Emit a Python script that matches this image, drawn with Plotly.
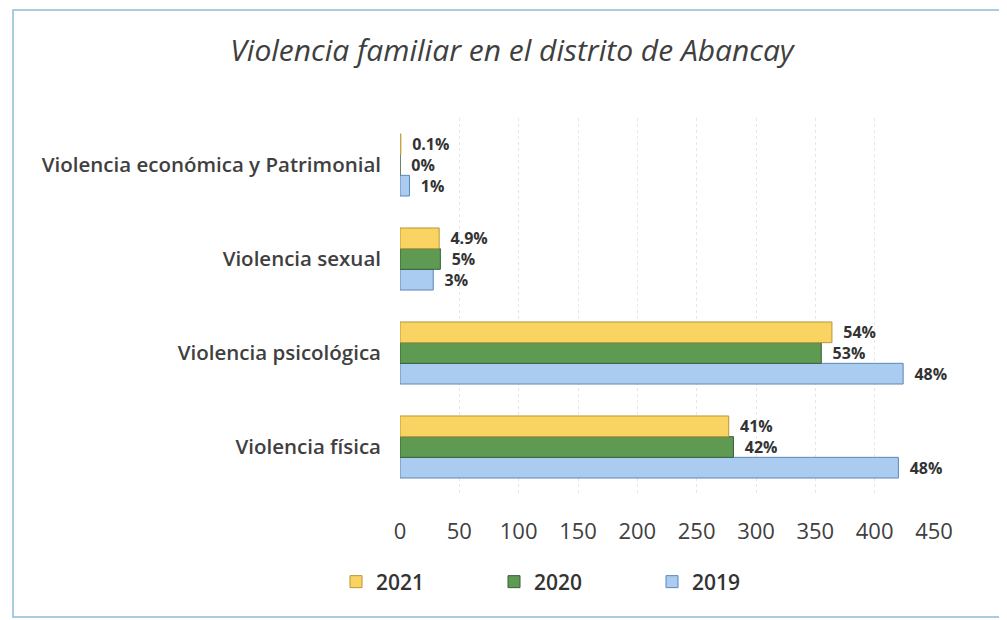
import plotly.graph_objects as go

categories = ["Violencia física", "Violencia psicológica", "Violencia sexual",
              "Violencia económica y Patrimonial"]

v2019 = [420, 424, 28, 8]
v2020 = [281, 355, 34, 0]
v2021 = [277, 364, 33, 0.7]

t2019 = ["48%", "48%", "3%", "1%"]
t2020 = ["42%", "53%", "5%", "0%"]
t2021 = ["41%", "54%", "4.9%", "0.1%"]

xticks = [0, 50, 100, 150, 200, 250, 300, 350, 400, 450]

series = [
    ("2019", v2019, t2019, "#AACCF0", "#5F86B8"),
    ("2020", v2020, t2020, "#5E9A52", "#35603A"),
    ("2021", v2021, t2021, "#FAD462", "#B8953A"),
]

FONT = "Open Sans"

fig = go.Figure()
for name, vals, txt, col, edge in series:
    fig.add_trace(go.Bar(
        name=name, y=categories, x=vals, orientation="h",
        text=txt, texttemplate="\u00a0\u00a0%{text}", textposition="outside",
        constraintext="none",
        textfont=dict(family=FONT, size=16, color="#333333", weight="bold"),
        marker=dict(color=col, line=dict(color=edge, width=1)),
        cliponaxis=False,
    ))

# page is offset by the 8px body margin; layout numbers compensate
L, R, T, B = 392, 81, 110, 134
W, H = 1007, 620
pw = W - L - R
ph = H - T - B

fig.update_layout(
    width=W, height=H,
    paper_bgcolor="white", plot_bgcolor="white",
    barmode="group", bargap=0.34, bargroupgap=0,
    margin=dict(l=L, r=R, t=T, b=B, autoexpand=False),
    title=dict(text="<i>Violencia familiar en el distrito de Abancay</i>",
               x=504 / W, xanchor="center", y=1 - 42 / H, yanchor="middle",
               yref="container",
               font=dict(family=FONT, size=30, color="#404040")),
    font=dict(family=FONT, color="#404040"),
    xaxis=dict(range=[0, 450], tickvals=xticks, showgrid=True,
               gridcolor="#E6E6E6", griddash="dot", zeroline=False,
               tickfont=dict(size=22, color="#404040"), ticks="",
               showline=False, ticklabelstandoff=22, automargin=False),
    yaxis=dict(tickfont=dict(size=20.5, color="#404040", weight=600),
               ticks="", showline=False, showgrid=False,
               ticklabelstandoff=18, automargin=False),
    legend=dict(orientation="h", traceorder="reversed",
                x=(328 - L) / pw, xanchor="left",
                y=(ph - (574 - T)) / ph, yanchor="middle", entrywidth=113,
                font=dict(size=21, color="#333333", weight=600)),
    showlegend=True,
)

fig.add_shape(type="rect", xref="paper", yref="paper",
              x0=(5 - L) / pw, x1=(1010 - L) / pw,
              y0=(ph - (609 - T)) / ph, y1=(ph - (2 - T)) / ph,
              line=dict(color="#8FBCD6", width=1.5), layer="below")

fig.write_html("out.html")
